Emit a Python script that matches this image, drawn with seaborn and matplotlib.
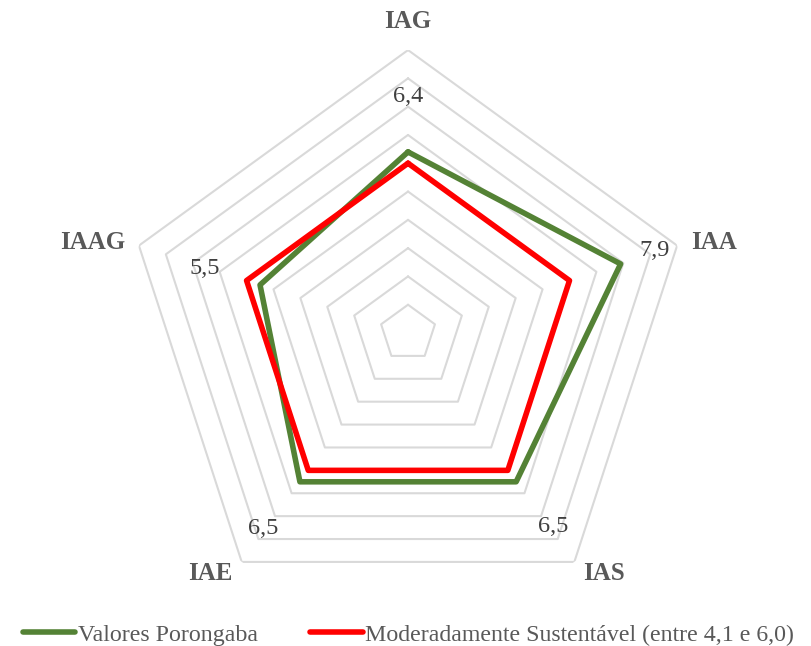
import numpy as np
import pandas as pd
import matplotlib
matplotlib.use("Agg")
import matplotlib.pyplot as plt
from matplotlib.lines import Line2D
import seaborn as sns

categories = ["IAG", "IAA", "IAS", "IAE", "IAAG"]
valores_porongaba = [6.4, 7.9, 6.5, 6.5, 5.5]
moderadamente = [6.0, 6.0, 6.0, 6.0, 6.0]
value_labels = ["6,4", "7,9", "6,5", "6,5", "5,5"]
series_names = ["Valores Porongaba", "Moderadamente Sustentável (entre 4,1 e 6,0)"]
grid_levels = list(range(1, 11))

sns.set_theme(style="white")
plt.rcParams["font.family"] = ["Liberation Serif", "DejaVu Serif"]

GREEN = "#548235"
RED = "#FF0000"
GRID = "#D9D9D9"
TXT = "#595959"

n = len(categories)
angles = [2 * np.pi * i / n for i in range(n)]

rows = []
for name, vals in zip(series_names, [valores_porongaba, moderadamente]):
    for k in range(n + 1):
        rows.append({"serie": name, "theta": angles[k % n], "valor": vals[k % n], "ordem": k})
df = pd.DataFrame(rows)

fig = plt.figure(figsize=(8.12, 6.46), dpi=100)
ax = fig.add_axes([0.154, 0.0465, 0.697, 0.876], projection="polar")
ax.set_theta_zero_location("N")
ax.set_theta_direction(-1)
ax.set_ylim(0, 10)
ax.grid(False)
ax.spines["polar"].set_visible(False)
ax.set_xticks([])
ax.set_yticks([])
ax.patch.set_alpha(0)

# pentagonal gridlines
closed = angles + [angles[0]]
for lv in grid_levels:
    ax.plot(closed, [lv] * (n + 1), color=GRID, lw=1.5, zorder=1)

sns.lineplot(data=df, x="theta", y="valor", hue="serie", units="serie",
             estimator=None, sort=False, palette=[GREEN, RED], lw=4.0,
             ax=ax, legend=False, zorder=3)
ax.set_xlabel("")
ax.set_ylabel("")
ax.set_ylim(0, 10)

# data labels
label_pos = [(0.0, 8.35), (np.deg2rad(71.5), 9.2), (np.deg2rad(143.0), 8.55),
             (np.deg2rad(216.5), 8.6), (np.deg2rad(287.5), 7.55)]
for (th, r), txt in zip(label_pos, value_labels):
    ax.text(th, r, txt, ha="center", va="center", fontsize=17.5, color="#404040")

# category labels
cat_pos = [(0.0, 11.0, "center"), (np.deg2rad(72.3), 10.5, "left"),
           (np.deg2rad(143.9), 10.5, "left"), (np.deg2rad(216.1), 10.5, "right"),
           (np.deg2rad(287.7), 10.5, "right")]
for (th, r, ha), cat in zip(cat_pos, categories):
    ax.text(th, r, cat, ha=ha, va="center", fontsize=18,
            fontweight="bold", color=TXT)

handles = [Line2D([0], [0], color=GREEN, lw=4.0),
           Line2D([0], [0], color=RED, lw=4.0)]
leg = fig.legend(handles, series_names, loc="lower center", ncol=2,
                 bbox_to_anchor=(0.503, -0.033), frameon=False, fontsize=17.2,
                 handlelength=2.2, handletextpad=0.1, columnspacing=2.2)
for t in leg.get_texts():
    t.set_color(TXT)

fig.savefig("out.png", dpi=100)
